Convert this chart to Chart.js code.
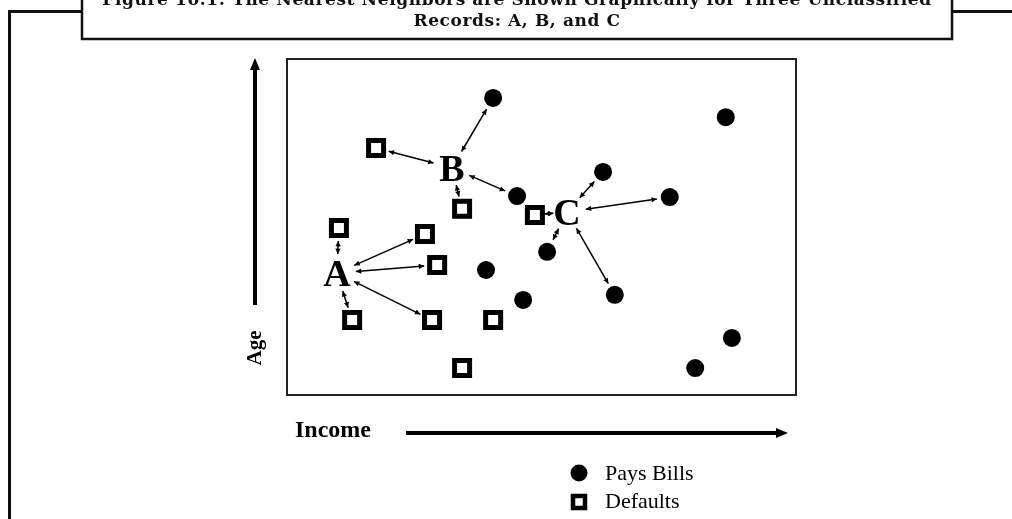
<!DOCTYPE html>
<html>
<head>
<meta charset="utf-8">
<script src="https://cdn.jsdelivr.net/npm/chart.js@4"></script>
<style>
  html, body { margin: 0; padding: 0; background: #fff; }
  #wrap { width: 1012px; height: 519px; }
</style>
</head>
<body>
<div id="wrap"><canvas id="nnChart" width="1012" height="519"></canvas></div>
<script>
// income / age on a 0-100 scale
const payIncome = [40.5, 86.2, 62.1, 45.2, 75.2, 51.1, 39.1, 46.4, 64.4, 87.4, 80.2];
const payAge    = [88.4, 82.7, 66.4, 59.2, 58.9, 42.6, 37.2, 28.3, 29.8, 17.0, 8.0];

const defIncome = [17.5, 34.4, 48.7, 10.2, 27.1, 29.5, 12.8, 28.5, 40.5, 34.4];
const defAge    = [73.5, 55.4, 53.6, 49.7, 47.9, 38.7, 22.3, 22.3, 22.3, 8.0];

// the three unclassified records
const recordLabels = ['A', 'B', 'C'];
const recordIncome = [9.8, 32.4, 55.0];
const recordAge    = [36.3, 67.6, 54.5];

// nearest neighbours of each record (indices into the lists above)
const nearDefaults = [[3, 4, 5, 6, 7], [0, 1], [2]];
const nearPayers   = [[], [0, 3], [2, 4, 5, 8]];

const titleLines = [
    'Figure 10.1: The Nearest Neighbors are Shown Graphically for Three Unclassified',
    'Records: A, B, and C'
];

const toPoints = (xs, ys) => xs.map((x, i) => ({ x: x, y: ys[i] }));

// thin line with a head on both ends
function doubleArrow(ctx, x1, y1, x2, y2) {
    const ang = Math.atan2(y2 - y1, x2 - x1);
    const head = 6, spread = 0.45;
    ctx.beginPath();
    ctx.moveTo(x1, y1);
    ctx.lineTo(x2, y2);
    ctx.stroke();
    [[x1, y1, ang + Math.PI], [x2, y2, ang]].forEach(([x, y, a]) => {
        ctx.beginPath();
        ctx.moveTo(x, y);
        ctx.lineTo(x - head * Math.cos(a - spread), y - head * Math.sin(a - spread));
        ctx.lineTo(x - head * Math.cos(a + spread), y - head * Math.sin(a + spread));
        ctx.closePath();
        ctx.fill();
    });
}

// thick axis arrow
function axisArrow(ctx, x1, y1, x2, y2) {
    const ang = Math.atan2(y2 - y1, x2 - x1);
    const len = 12, half = 5;
    const bx = x2 - len * Math.cos(ang), by = y2 - len * Math.sin(ang);
    ctx.lineWidth = 4;
    ctx.beginPath();
    ctx.moveTo(x1, y1);
    ctx.lineTo(bx, by);
    ctx.stroke();
    ctx.beginPath();
    ctx.moveTo(x2, y2);
    ctx.lineTo(bx + half * Math.sin(ang), by - half * Math.cos(ang));
    ctx.lineTo(bx - half * Math.sin(ang), by + half * Math.cos(ang));
    ctx.closePath();
    ctx.fill();
}

const figurePlugin = {
    id: 'figure_decor',
    beforeDraw: (chart) => {
        const ctx = chart.ctx;
        const area = chart.chartArea;
        ctx.save();
        ctx.fillStyle = '#fff';
        ctx.fillRect(0, 0, chart.width, chart.height);

        // page frame
        ctx.strokeStyle = '#111';
        ctx.lineWidth = 3;
        ctx.beginPath();
        ctx.moveTo(9.5, chart.height);
        ctx.lineTo(9.5, 11.5);
        ctx.lineTo(82, 11.5);
        ctx.moveTo(952, 11.5);
        ctx.lineTo(chart.width, 11.5);
        ctx.stroke();

        // caption box
        ctx.lineWidth = 2.5;
        ctx.strokeRect(82, -5, 870, 44);
        ctx.fillStyle = '#111';
        ctx.font = 'bold 17px "DejaVu Serif"';
        ctx.letterSpacing = '0.6px';
        ctx.textAlign = 'center';
        ctx.textBaseline = 'alphabetic';
        ctx.fillText(titleLines[0], 517, 5);
        ctx.fillText(titleLines[1], 517, 26);
        ctx.letterSpacing = '0px';

        // plot frame
        ctx.strokeStyle = '#222';
        ctx.lineWidth = 2;
        ctx.strokeRect(area.left, area.top, area.width, area.height);

        // axis arrows and names
        ctx.strokeStyle = '#000';
        ctx.fillStyle = '#000';
        axisArrow(ctx, 255, 305, 255, 58);
        axisArrow(ctx, 406, 433, 788, 433);

        ctx.font = 'bold 24px "Liberation Serif"';
        ctx.textAlign = 'left';
        ctx.textBaseline = 'middle';
        ctx.fillText('Income', 295, 431);

        ctx.save();
        ctx.translate(256, 348);
        ctx.rotate(-Math.PI / 2);
        ctx.font = 'bold 21px "Liberation Serif"';
        ctx.textAlign = 'center';
        ctx.fillText('Age', 0, 0);
        ctx.restore();

        // key
        ctx.beginPath();
        ctx.arc(579, 473, 8.5, 0, Math.PI * 2);
        ctx.fill();
        ctx.lineWidth = 4.5;
        ctx.strokeRect(573, 496, 12, 12);
        ctx.font = '22px "Liberation Serif"';
        ctx.fillText('Pays Bills', 605, 474);
        ctx.fillText('Defaults', 605, 502);
        ctx.restore();
    },
    afterDatasetsDraw: (chart) => {
        const ctx = chart.ctx;
        const xs = chart.scales.x, ys = chart.scales.y;
        ctx.save();
        ctx.strokeStyle = '#000';
        ctx.fillStyle = '#000';
        ctx.lineWidth = 1.5;

        recordLabels.forEach((name, r) => {
            const rx = xs.getPixelForValue(recordIncome[r]);
            const ry = ys.getPixelForValue(recordAge[r]);
            const targets = nearDefaults[r].map(i => [defIncome[i], defAge[i]])
                .concat(nearPayers[r].map(i => [payIncome[i], payAge[i]]));
            targets.forEach(([tx, ty]) => {
                const px = xs.getPixelForValue(tx), py = ys.getPixelForValue(ty);
                const d = Math.hypot(px - rx, py - ry);
                let g1 = 19, g2 = 13;
                if (d < 45) { g1 = d * 0.42; g2 = d * 0.3; }
                const ux = (px - rx) / d, uy = (py - ry) / d;
                doubleArrow(ctx, rx + ux * g1, ry + uy * g1, px - ux * g2, py - uy * g2);
            });

            ctx.font = 'bold 38px "Liberation Serif"';
            ctx.textAlign = 'center';
            ctx.textBaseline = 'alphabetic';
            ctx.fillText(name, rx, ry + 13);
        });
        ctx.restore();
    }
};

const config = {
    type: 'scatter',
    data: {
        datasets: [{
            label: 'Pays Bills',
            data: toPoints(payIncome, payAge),
            pointStyle: 'circle',
            pointRadius: 9,
            pointHoverRadius: 9,
            backgroundColor: '#000',
            borderColor: '#000',
            borderWidth: 0
        }, {
            label: 'Defaults',
            data: toPoints(defIncome, defAge),
            pointStyle: 'rect',
            pointRadius: 10.6,
            pointHoverRadius: 10.6,
            backgroundColor: '#fff',
            borderColor: '#000',
            borderWidth: 5
        }, {
            label: 'Unclassified',
            data: toPoints(recordIncome, recordAge),
            pointRadius: 0,
            pointHoverRadius: 0
        }]
    },
    options: {
        responsive: false,
        animation: false,
        clip: false,
        layout: { padding: { left: 287, right: 216, top: 59, bottom: 124 } },
        scales: {
            x: { type: 'linear', min: 0, max: 100, display: false },
            y: { type: 'linear', min: 0, max: 100, display: false }
        },
        plugins: {
            legend: { display: false },
            tooltip: { enabled: false },
            title: { display: false }
        }
    },
    plugins: [figurePlugin]
};

const nnChart = new Chart(document.getElementById('nnChart'), config);
</script>
</body>
</html>
